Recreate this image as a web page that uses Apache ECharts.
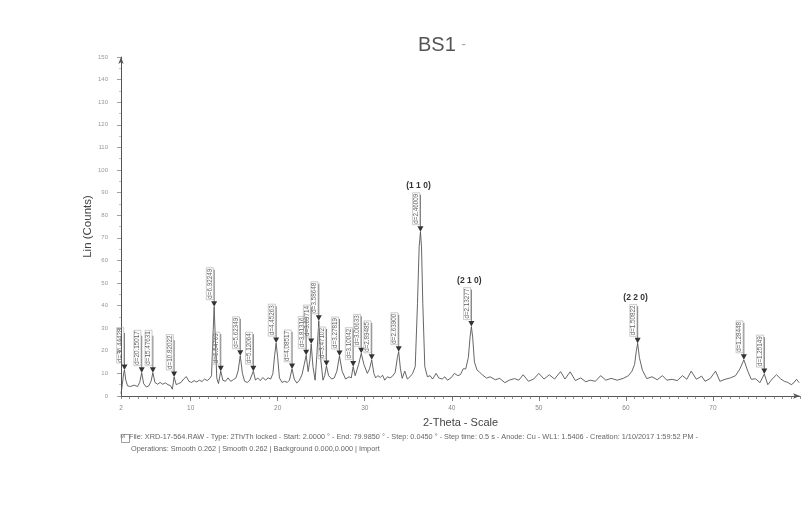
<!DOCTYPE html>
<html>
<head>
<meta charset="utf-8">
<script src="https://cdn.jsdelivr.net/npm/echarts@6/dist/echarts.min.js"></script>
<style>
html,body{margin:0;padding:0;background:#fff;}
#c{width:812px;height:510px;}
</style>
</head>
<body>
<div id="c"></div>
<script>
// XRD pattern [2-theta, counts]
const pattern = [
[2.0,1],[2.15,5],[2.3,10],[2.4,11.5],[2.55,7],[2.75,4.5],[3.1,4.2],[3.5,4.8],[3.9,4.2],[4.15,6],[4.38,10.3],[4.6,5.5],[4.9,4],[5.2,4.5],[5.45,6.5],[5.66,10.3],[5.9,6],[6.2,5.2],[6.5,6],[6.8,5.2],[7.1,5.8],[7.4,5],[7.7,4.5],[7.9,3],[8.1,8.4],[8.35,5],[8.6,5.5],[8.9,6],[9.2,7.5],[9.5,8.6],[9.8,6.5],[10.1,6],[10.4,6.8],[10.7,6.2],[11.0,7],[11.3,6.4],[11.6,7.5],[11.9,6.8],[12.2,7.8],[12.4,9],[12.55,25],[12.7,39.5],[12.85,24],[13.0,8],[13.2,5.5],[13.46,11],[13.7,7],[14.0,6.5],[14.3,8],[14.6,6.5],[14.9,7.2],[15.2,8],[15.45,11],[15.7,17.8],[15.95,10],[16.2,6.5],[16.5,6],[16.8,7],[17.0,6.5],[17.2,11],[17.45,7],[17.7,8],[18.0,6.8],[18.3,8.2],[18.6,7],[18.9,8],[19.2,7.5],[19.45,10],[19.65,18],[19.82,23.4],[20.0,17],[20.2,8],[20.5,6],[20.8,6.5],[21.1,6],[21.35,7],[21.65,12],[21.9,7.5],[22.2,5.7],[22.5,7],[22.8,9.5],[23.05,14],[23.27,18],[23.5,10.8],[23.7,16],[23.85,23],[24.05,13],[24.3,7],[24.5,18],[24.72,33.3],[24.95,16],[25.2,7],[25.4,9],[25.6,13.3],[25.85,9],[26.2,7.5],[26.5,8],[26.8,11],[27.1,17.7],[27.4,11],[27.8,7.5],[28.2,8.5],[28.45,8],[28.67,13],[28.9,9],[29.0,8.5],[29.3,14],[29.6,18.9],[29.9,14],[30.3,10],[30.55,12],[30.8,16],[31.05,10],[31.25,8],[31.5,9],[31.8,8.2],[32.05,9.2],[32.3,7],[32.6,8.5],[32.9,8],[33.2,8.8],[33.5,10.5],[33.75,17],[33.9,19.6],[34.1,12],[34.3,7.8],[34.6,11],[34.9,7.5],[35.2,8.5],[35.5,10],[35.8,13],[36.06,41],[36.25,66],[36.4,72.7],[36.52,66],[36.67,41],[36.9,13],[37.2,8.5],[37.5,9],[37.8,7.5],[38.2,10],[38.5,8],[38.9,7.5],[39.2,8.5],[39.5,7],[39.9,8],[40.3,10],[40.7,9],[41.0,9.5],[41.3,12],[41.6,12],[41.9,17],[42.1,26],[42.25,30.7],[42.4,26],[42.6,15],[42.9,11.5],[43.2,10.5],[43.5,9.4],[44.0,7.9],[44.4,8.5],[45.0,7.2],[45.5,7.8],[46.1,5.9],[46.6,7],[47.2,7.7],[47.7,7],[48.2,9.4],[48.8,6.5],[49.4,7.5],[50.0,10],[50.6,7.5],[51.2,9.4],[51.8,7.5],[52.5,10.8],[53.0,7.5],[53.6,10.7],[54.2,6.8],[54.8,8],[55.4,6.3],[55.9,7],[56.5,6.5],[57.1,9],[57.7,7],[58.3,7.8],[59.0,7],[59.7,7.8],[60.3,9],[60.7,11],[61.0,14],[61.2,20],[61.35,23.3],[61.55,17],[61.9,11.4],[62.4,7.7],[63.0,8.5],[63.6,7.2],[64.2,9],[64.7,7],[65.3,7.4],[65.9,6.8],[66.5,9],[67.0,7.4],[67.5,11],[68.1,7.4],[68.7,8.8],[69.1,6.5],[69.7,7.8],[70.3,11],[70.8,6.5],[71.4,7.4],[72.0,8],[72.6,9],[73.1,12],[73.55,16],[74.0,11],[74.4,7.4],[74.9,7.6],[75.4,5.9],[75.9,9.7],[76.3,5],[76.8,7.5],[77.3,9.4],[77.8,7.5],[78.2,6.5],[78.6,6],[79.0,5],[79.3,5.9],[79.6,7.4],[79.9,5.9]
];
// Peak markers [2-theta, counts]
const peaks = [
[2.4,11.5],[4.38,10.3],[5.66,10.3],[8.1,8.4],[12.7,39.5],[13.46,11],[15.7,17.8],[17.2,11],[19.82,23.4],[21.65,12],[23.27,18],[23.85,23],[24.72,33.3],[25.6,13.3],[27.1,17.7],[28.67,13],[29.6,18.9],[30.8,16],[33.9,19.6],[36.4,72.7],[42.25,30.7],[61.35,23.3],[73.55,16],[75.9,9.7]
];
const peakLabels = [
'd=36.44428','d=20.15017','d=15.47631','d=10.82022','d=6.92249','d=6.54769','d=5.62349','d=5.12064','d=4.45263','d=4.08517','d=3.81316','d=3.69714','d=3.58648','d=3.47102','d=3.27819','d=3.10042','d=3.00633','d=2.89485','d=2.63900','d=2.46009','d=2.13277','d=1.50822','d=1.28448','d=1.25149'
];
const hklPeaks = [[36.4,72.7],[42.25,30.7],[61.35,23.3]];
const hklLabels = ['(1 1 0)','(2 1 0)','(2 2 0)'];
const xLabelValues = [2,10,20,30,40,50,60,70];
const xMajorTicks = [10,20,30,40,50,60,70];
const yTicks = [0,10,20,30,40,50,60,70,80,90,100,110,120,130,140,150];

const FONT = 'Liberation Sans, Arial, sans-serif';
const chart = echarts.init(document.getElementById('c'), null, {renderer:'canvas'});
const LINE_L = 31;

const xBase = {
  type:'value', min:2, max:80, interval:1, gridIndex:0
};

chart.setOption({
  backgroundColor:'#ffffff',
  animation:false,
  title:{
    text:'BS1 {d|-}', left:437, top:30, textAlign:'center',
    textStyle:{fontFamily:FONT, fontSize:20, fontWeight:'normal', color:'#555',
      rich:{d:{fontSize:14, color:'#aaa', fontFamily:FONT}}}
  },
  grid:{left:121, right:12, top:57, bottom:114},
  xAxis:[
    Object.assign({}, xBase, {
      name:'2-Theta - Scale', nameLocation:'middle', nameGap:21,
      nameTextStyle:{fontFamily:FONT, fontSize:11, color:'#444', verticalAlign:'top'},
      axisLine:{show:true, lineStyle:{color:'#555', width:1}, symbol:['none','arrow'], symbolSize:[4,7]},
      axisTick:{show:true, length:3, lineStyle:{color:'#666', width:0.7}},
      axisLabel:{show:true, customValues:xLabelValues, margin:9, fontFamily:FONT, fontSize:6.5, color:'#888'},
      splitLine:{show:false}
    }),
    Object.assign({}, xBase, {
      position:'bottom',
      axisLine:{show:false},
      axisTick:{show:true, customValues:xMajorTicks, length:5, lineStyle:{color:'#666', width:0.8}},
      axisLabel:{show:false},
      splitLine:{show:false}
    })
  ],
  yAxis:{
    type:'value', min:0, max:150, interval:10,
    name:'Lin (Counts)', nameLocation:'middle', nameGap:27, nameMoveOverlap:false,
    nameTextStyle:{fontFamily:FONT, fontSize:11.5, color:'#444'},
    axisLine:{show:true, lineStyle:{color:'#555', width:1}, symbol:['none','arrow'], symbolSize:[4,7]},
    axisTick:{show:true, length:4, lineStyle:{color:'#777', width:0.7}},
    minorTick:{show:true, splitNumber:2, length:2, lineStyle:{color:'#999', width:0.6}},
    axisLabel:{customValues:yTicks, margin:13, fontFamily:FONT, fontSize:6, color:'#999'},
    splitLine:{show:false}
  },
  series:[
    {
      type:'line', data:pattern, xAxisIndex:0, showSymbol:false, symbol:'none',
      lineStyle:{color:'#555', width:0.9}, z:2
    },
    {
      type:'custom', data:peaks, xAxisIndex:0, z:3,
      renderItem:function(params, api){
        const p = api.coord([api.value(0), api.value(1)]);
        const x = p[0], y = p[1];
        const label = peakLabels[params.dataIndex];
        return {type:'group', children:[
          {type:'line', shape:{x1:x, y1:y-5, x2:x, y2:y-6-LINE_L}, style:{stroke:'#555', lineWidth:0.8}},
          {type:'polygon', shape:{points:[[x-3,y-5.5],[x+3,y-5.5],[x,y]]}, style:{fill:'#333'}},
          {type:'text', x:x-4.3, y:y-7, rotation:Math.PI/2,
            style:{text:label, fontSize:6.3, fontFamily:FONT, fill:'#666', align:'left', verticalAlign:'middle',
              borderColor:'#aaa', borderWidth:0.6, padding:[1,1,0,1]}}
        ]};
      }
    },
    {
      type:'custom', data:hklPeaks, xAxisIndex:0, z:3,
      renderItem:function(params, api){
        const p = api.coord([api.value(0), api.value(1)]);
        return {type:'text', x:p[0]-2, y:p[1]-6-LINE_L-9,
          style:{text:hklLabels[params.dataIndex], fontSize:8.5, fontWeight:'bold', fontFamily:FONT, fill:'#333', align:'center', verticalAlign:'middle'}};
      }
    }
  ],
  graphic:[
    {type:'rect', left:119, top:432, shape:{width:8, height:8}, style:{fill:'none', stroke:'#777', lineWidth:0.7}},
    {type:'text', left:120.3, top:433.5, style:{text:'M', fontSize:6, fontFamily:FONT, fill:'#777'}},
    {type:'text', left:129, top:433, style:{text:'File: XRD-17-564.RAW - Type: 2Th/Th locked - Start: 2.0000 ° - End: 79.9850 ° - Step: 0.0450 ° - Step time: 0.5 s - Anode: Cu - WL1: 1.5406 - Creation: 1/10/2017 1:59:52 PM -', fontSize:7.3, fontFamily:FONT, fill:'#666'}},
    {type:'text', left:131, top:445, style:{text:'Operations: Smooth 0.262 | Smooth 0.262 | Background 0.000,0.000 | Import', fontSize:7.3, fontFamily:FONT, fill:'#666'}}
  ]
});
</script>
</body>
</html>
